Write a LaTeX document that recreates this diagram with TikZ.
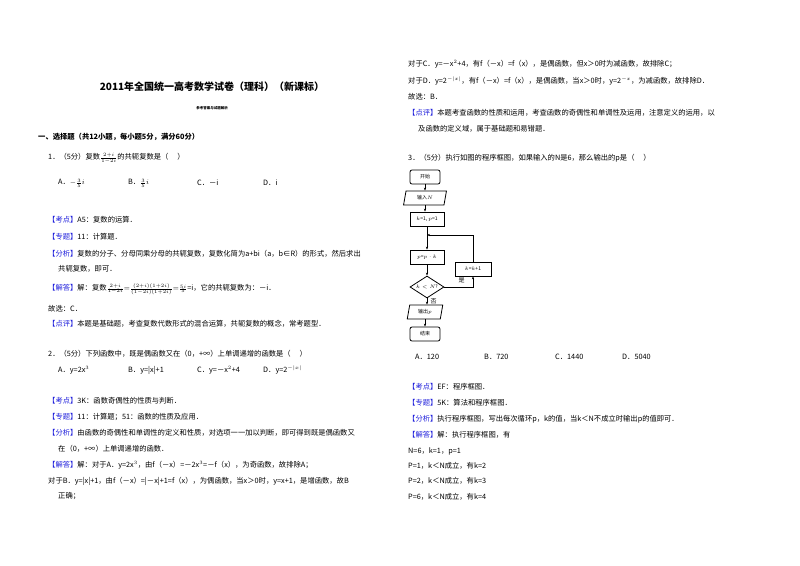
\documentclass[tikz,border=0pt]{standalone}
\usepackage{fontspec}
\setmainfont{Noto Sans CJK SC}
\usetikzlibrary{shapes.geometric,arrows.meta}
\definecolor{lblue}{RGB}{30,30,220}
\newcommand{\bk}[1]{{\color{lblue}【#1】}}
\newcommand{\fr}[2]{{\scriptstyle\frac{#1}{#2}}}
\tikzset{
 t/.style={anchor=west,inner sep=0pt,font=\fontsize{7.3}{8}\selectfont},
 fbox/.style={draw,thick,minimum width=34pt,minimum height=14pt,inner sep=1pt,font=\fontsize{5}{6}\selectfont},
 fpar/.style={fbox,trapezium,trapezium left angle=80,trapezium right angle=100,minimum width=26pt},
 fdia/.style={fbox,diamond,aspect=1.7,minimum width=34pt,minimum height=22pt,inner sep=0pt},
 ar/.style={-{Stealth[length=3pt]},thick}
}
\begin{document}
\begin{tikzpicture}[x=1pt,y=-1pt]
\useasboundingbox[fill=white] (0,0) rectangle (800,565);
% left column
\node[anchor=center,inner sep=0pt,font=\fontsize{10}{11}\selectfont\bfseries] (title) at (212,87) {2011年全国统一高考数学试卷（理科）（新课标）};
\node[anchor=center,inner sep=0pt,font=\fontsize{3.5}{4}\selectfont\bfseries] (sub) at (212,108) {参考答案与试题解析};
\node[t,font=\fontsize{7.3}{8}\selectfont\bfseries] (sec) at (38,137) {一、选择题（共12小题，每小题5分，满分60分）};
\node[t] (q1) at (48,158) {1．（5分）复数$\fr{2+i}{1-2i}$的共轭复数是（\quad\ ）};
\node[t] (q1a) at (58,183) {A．$-\fr{3}{5}i$};
\node[t] (q1b) at (128,183) {B．$\fr{3}{5}i$};
\node[t] (q1c) at (197,183) {C．－i};
\node[t] (q1d) at (263,183) {D．i};
\node[t] (k1) at (48,220) {\bk{考点}A5：复数的运算．};
\node[t] (z1) at (48,237) {\bk{专题}11：计算题．};
\node[t] (f1) at (48,254) {\bk{分析}复数的分子、分母同乘分母的共轭复数，复数化简为a+bi（a，b∈R）的形式，然后求出};
\node[t] (f1b) at (58,269) {共轭复数，即可．};
\node[t] (j1) at (48,289) {\bk{解答}解：复数$\fr{2+i}{1-2i}{=}\fr{(2+i)(1+2i)}{(1-2i)(1+2i)}{=}\fr{5i}{5}$=i，它的共轭复数为：－i．};
\node[t] (g1) at (48,309) {故选：C．};
\node[t] (p1) at (48,324) {\bk{点评}本题是基础题，考查复数代数形式的混合运算，共轭复数的概念，常考题型．};
\node[t] (q2) at (48,354) {2．（5分）下列函数中，既是偶函数又在（0，+∞）上单调递增的函数是（\quad\ ）};
\node[t] (q2a) at (58,370) {A．y=2x$^3$};
\node[t] (q2b) at (128,370) {B．y=|x|+1};
\node[t] (q2c) at (197,370) {C．y=－x$^2$+4};
\node[t] (q2d) at (263,370) {D．y=2$^{-|x|}$};
\node[t] (k2) at (48,401) {\bk{考点}3K：函数奇偶性的性质与判断．};
\node[t] (z2) at (48,417) {\bk{专题}11：计算题；51：函数的性质及应用．};
\node[t] (f2) at (48,433) {\bk{分析}由函数的奇偶性和单调性的定义和性质，对选项一一加以判断，即可得到既是偶函数又};
\node[t] (f2b) at (58,449) {在（0，+∞）上单调递增的函数．};
\node[t] (j2) at (48,465) {\bk{解答}解：对于A．y=2x$^3$，由f（－x）=－2x$^3$=－f（x），为奇函数，故排除A；};
\node[t] (j2b) at (48,481) {对于B．y=|x|+1，由f（－x）=|－x|+1=f（x），为偶函数，当x＞0时，y=x+1，是增函数，故B};
\node[t] (j2c) at (58,496) {正确；};
% right column
\node[t] (c2) at (408,64) {对于C．y=－x$^2$+4，有f（－x）=f（x），是偶函数，但x＞0时为减函数，故排除C；};
\node[t] (d2) at (408,81) {对于D．y=2$^{-|x|}$，有f（－x）=f（x），是偶函数，当x＞0时，y=2$^{-x}$，为减函数，故排除D．};
\node[t] (g2) at (408,97) {故选：B．};
\node[t] (p2) at (408,113) {\bk{点评}本题考查函数的性质和运用，考查函数的奇偶性和单调性及运用，注意定义的运用，以};
\node[t] (p2b) at (418,129) {及函数的定义域，属于基础题和易错题．};
\node[t] (q3) at (408,158) {3．（5分）执行如图的程序框图，如果输入的N是6，那么输出的p是（\quad\ ）};
% flowchart
\node[fbox,rounded corners=2pt,minimum width=30pt] (st) at (425,177) {开始};
\node[fpar] (in) at (425,198) {输入$N$};
\node[fbox] (init) at (427,219) {$k$=1, $p$=1};
\coordinate (jn) at (427,235);
\node[fbox] (mul) at (427,257) {$p$=$p\cdot k$};
\node[fbox,minimum width=36pt] (inc) at (473,269) {$k$=$k$+1};
\node[fdia] (dec) at (427,287) {$k<N$?};
\node[fpar] (out) at (425,312) {输出$p$};
\node[fbox,rounded corners=2pt,minimum width=30pt] (en) at (425,334) {结束};
\draw[ar] (st) -- (in);
\draw[ar] (in.south -| st) -- (init.north -| st);
\draw[thick] (init) -- (jn);
\draw[ar] (jn) -- (mul);
\draw[ar] (mul) -- (dec);
\draw[ar] (dec.east) -| node[pos=0.3,above,font=\fontsize{6}{6}\selectfont]{是} (inc.south);
\draw[ar] (inc.north) |- (jn);
\draw[ar] (dec.south) -- node[pos=0.5,right,font=\fontsize{6}{6}\selectfont]{否} (out.north -| dec);
\draw[ar] (out.south -| en) -- (en);
\node[t] (q3a) at (415,357) {A．120};
\node[t] (q3b) at (484,357) {B．720};
\node[t] (q3c) at (555,357) {C．1440};
\node[t] (q3d) at (622,357) {D．5040};
\node[t] (k3) at (408,387) {\bk{考点}EF：程序框图．};
\node[t] (z3) at (408,403) {\bk{专题}5K：算法和程序框图．};
\node[t] (f3) at (408,419) {\bk{分析}执行程序框图，写出每次循环p，k的值，当k＜N不成立时输出p的值即可．};
\node[t] (j3) at (408,435) {\bk{解答}解：执行程序框图，有};
\node[t] (l1) at (408,451) {N=6，k=1，p=1};
\node[t] (l2) at (408,466) {P=1，k＜N成立，有k=2};
\node[t] (l3) at (408,481) {P=2，k＜N成立，有k=3};
\node[t] (l4) at (408,497) {P=6，k＜N成立，有k=4};
\end{tikzpicture}
\end{document}
